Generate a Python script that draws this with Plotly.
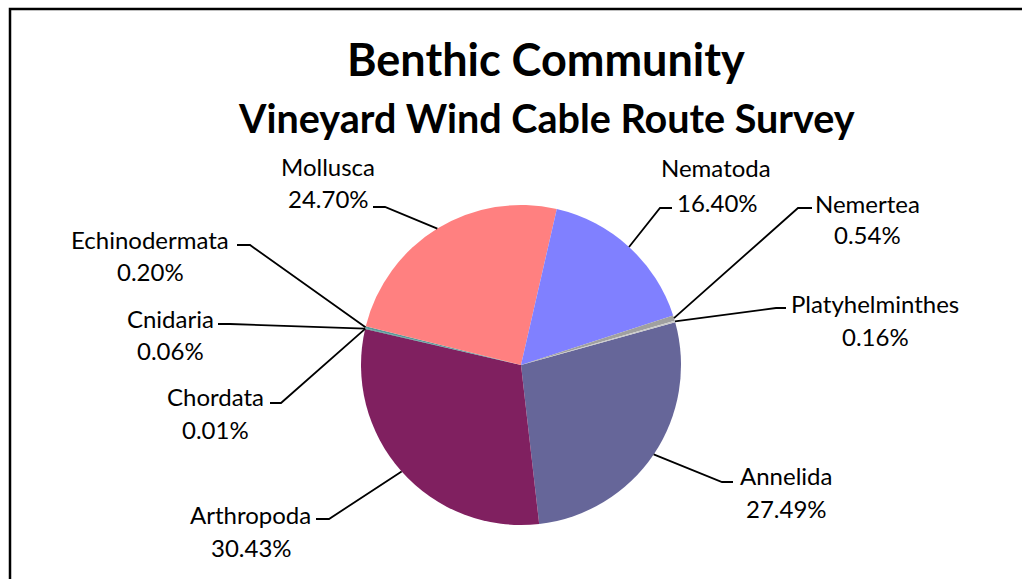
import math
import plotly.graph_objects as go

# ---- data ----
categories = ["Annelida", "Arthropoda", "Chordata", "Cnidaria", "Echinodermata",
              "Mollusca", "Nematoda", "Nemertea", "Platyhelminthes"]
percents = [27.49, 30.43, 0.01, 0.06, 0.20, 24.70, 16.40, 0.54, 0.16]
pct_labels = ["27.49%", "30.43%", "0.01%", "0.06%", "0.20%", "24.70%", "16.40%", "0.54%", "0.16%"]
title_line1 = "Benthic Community"
title_line2 = "Vineyard Wind Cable Route Survey"

# ---- style / layout ----
colors = ["#666699", "#802060", "#3F8080", "#2F7A7A", "#5A9A9A",
          "#FF8080", "#8080FF", "#A0A0A0", "#C8C8C8"]
OFF = 0                             # page body margin removed via post_script
W, H = 1022, 579
CX, CY, R = 521, 365, 160          # pie centre / radius in page px
ROT = 74.5                          # first slice start angle (clockwise from 12 o'clock)
FONT = "Lato"
LBL_SIZE = 24

# label placement (page px): name centre, percent centre, stub outer end, stub inner end (elbow)
label_pos = {
    "Annelida":        ((786, 475), (786, 508), (733, 482), (722, 482)),
    "Arthropoda":      ((250, 514), (251, 547), (316, 519), (329, 519)),
    "Chordata":        ((215, 396), (215, 429), (270, 403), (281, 403)),
    "Cnidaria":        ((170, 318), (170, 350), (218, 324), (230, 324)),
    "Echinodermata":   ((150, 239), (150, 271), (237, 245), (250, 245)),
    "Mollusca":        ((328, 166), (328, 198), (373, 207), (385, 207)),
    "Nematoda":        ((716, 168), (717, 202), (672, 208), (660, 208)),
    "Nemertea":        ((867, 203), (867, 235), (812, 208), (798, 208)),
    "Platyhelminthes": ((875, 303), (875, 336), (786, 308), (776, 308)),
}


def px(x, y):
    return (x - OFF) / W, 1 - (y - OFF) / H


fig = go.Figure()
d0 = px(CX - R, CY + R)
d1 = px(CX + R, CY - R)
fig.add_trace(go.Pie(
    labels=categories, values=percents, sort=False, direction="clockwise",
    rotation=ROT, textinfo="none", hoverinfo="label+percent",
    marker=dict(colors=colors, line=dict(width=0)),
    domain=dict(x=[d0[0], d1[0]], y=[d0[1], d1[1]]),
    showlegend=False,
))

annotations = []
shapes = []
total = sum(percents)
cum = 0.0
for cat, val, pl in zip(categories, percents, pct_labels):
    mid = ROT + (cum + val / 2) / total * 360.0
    cum += val
    a = math.radians(mid)
    ex, ey = CX + R * math.sin(a), CY - R * math.cos(a)
    (nx, ny), (qx, qy), (sx, sy), (kx, ky) = label_pos[cat]
    p0, p1, p2 = px(sx, sy), px(kx, ky), px(ex, ey)
    shapes.append(dict(type="path", xref="paper", yref="paper",
                       path=f"M {p0[0]},{p0[1]} L {p1[0]},{p1[1]} L {p2[0]},{p2[1]}",
                       line=dict(color="black", width=1.8)))
    for (tx, ty), txt in (((nx, ny), cat), ((qx, qy), pl)):
        x, y = px(tx, ty)
        annotations.append(dict(x=x, y=y, xref="paper", yref="paper", text=txt,
                                showarrow=False, xanchor="center", yanchor="middle",
                                font=dict(family=FONT, size=LBL_SIZE, color="black")))

for txt, (tx, ty), size in ((title_line1, (546, 59), 45), (title_line2, (546, 117), 39.5)):
    x, y = px(tx, ty)
    annotations.append(dict(x=x, y=y, xref="paper", yref="paper", text=f"<b>{txt}</b>",
                            showarrow=False, xanchor="center", yanchor="middle",
                            font=dict(family=FONT, size=size, color="black")))

# chart border (extends past right and bottom edges)
b0 = px(10, 9)
shapes.append(dict(type="rect", xref="paper", yref="paper", x0=b0[0], y0=-0.1, x1=1.1, y1=b0[1],
                   line=dict(color="black", width=2.5), fillcolor="rgba(0,0,0,0)"))

fig.update_layout(width=W, height=H, margin=dict(l=0, r=0, t=0, b=0),
                  paper_bgcolor="white", plot_bgcolor="white",
                  annotations=annotations, shapes=shapes)
fig.write_html("out.html", config={"displayModeBar": False},
               post_script="document.body.style.margin='0';document.body.style.overflow='hidden';")
